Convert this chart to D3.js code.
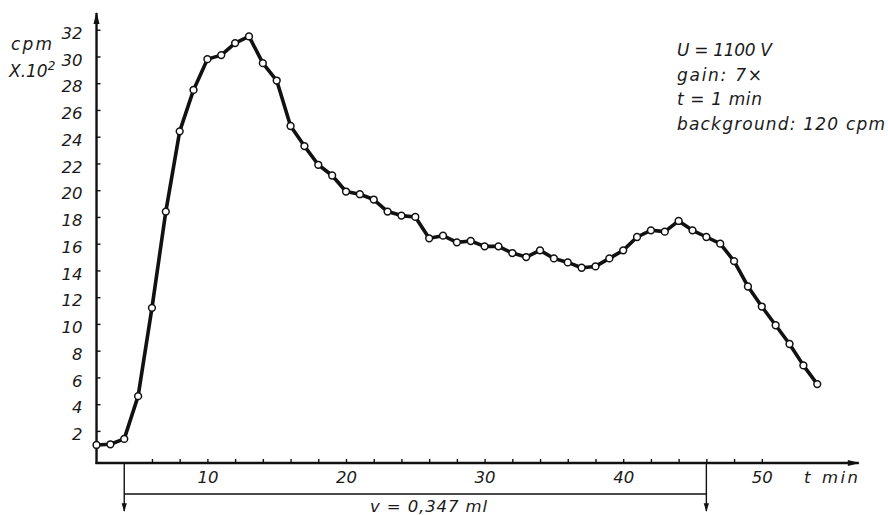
<!DOCTYPE html>
<html>
<head>
<meta charset="utf-8">
<script src="https://cdn.jsdelivr.net/npm/d3@7/dist/d3.min.js"></script>
<style>
  html, body { margin: 0; padding: 0; background: #fff; }
  svg { display: block; }
  text { font-family: "DejaVu Sans", sans-serif; font-style: italic; fill: #1a1a1a; }
</style>
</head>
<body>
<svg id="chart" width="888" height="515"></svg>
<script>
// Measured count rate (cpm x 10^2) for each minute of the run
const minutes = [2, 3, 4, 5, 6, 7, 8, 9, 10, 11, 12, 13, 14, 15, 16, 17, 18, 19, 20,
  21, 22, 23, 24, 25, 26, 27, 28, 29, 30, 31, 32, 33, 34, 35, 36, 37, 38, 39, 40,
  41, 42, 43, 44, 45, 46, 47, 48, 49, 50, 51, 52, 53, 54];
const counts = [0.95, 1.0, 1.4, 4.6, 11.2, 18.4, 24.4, 27.5, 29.8, 30.1, 31.0, 31.5,
  29.5, 28.2, 24.8, 23.3, 21.9, 21.1, 19.9, 19.7, 19.3, 18.4, 18.1, 18.0, 16.4, 16.6,
  16.1, 16.2, 15.8, 15.8, 15.3, 15.0, 15.5, 14.9, 14.6, 14.2, 14.3, 14.9, 15.5, 16.5,
  17.0, 16.9, 17.7, 17.0, 16.5, 16.0, 14.7, 12.8, 11.3, 9.9, 8.5, 6.9, 5.5];

// Axis ticks and labels
const yTicks = [2, 4, 6, 8, 10, 12, 14, 16, 18, 20, 22, 24, 26, 28, 30, 32];
const xTicks = [6, 8, 10, 12, 14, 16, 18, 20, 22, 24, 26, 28, 30, 32, 34, 36, 38, 40,
  42, 44, 46, 48, 50];
const xLabelled = [10, 20, 30, 40, 50];

// Collected volume interval (start and end minute) and its label
const volumeSpan = [4, 46];
const volumeLabel = "v = 0,347 ml";

// Run conditions
const notes = ["U = 1100 V", "gain: 7\u00d7", "t = 1 min", "background: 120 cpm"];

const svg = d3.select("#chart");

const x = d3.scaleLinear().domain([0, 57]).range([68.8, 68.8 + 57 * 13.86]);
const y = d3.scaleLinear().domain([-0.4, 33.25]).range([463, 13]);

const x0 = x(minutes[0]);
const xEnd = x(57);
const yBase = y(-0.4);
const yTop = y(33.25);

// arrowheads
const defs = svg.append("defs");
defs.append("marker")
  .attr("id", "axisHead").attr("viewBox", "0 0 12 8")
  .attr("refX", 11).attr("refY", 4)
  .attr("markerUnits", "userSpaceOnUse")
  .attr("markerWidth", 13).attr("markerHeight", 8)
  .attr("orient", "auto")
  .append("path").attr("d", "M0,1 L12,4 L0,7 Z").attr("fill", "#111");
defs.append("marker")
  .attr("id", "smallHead").attr("viewBox", "0 0 10 8")
  .attr("refX", 9).attr("refY", 4)
  .attr("markerUnits", "userSpaceOnUse")
  .attr("markerWidth", 10).attr("markerHeight", 7)
  .attr("orient", "auto")
  .append("path").attr("d", "M0,1 L10,4 L0,7 Z").attr("fill", "#111");

// y axis ticks and labels
const yAxis = d3.axisLeft(y).tickValues(yTicks)
  .tickSizeInner(-4).tickSizeOuter(0).tickPadding(14);
const gy = svg.append("g").attr("transform", `translate(${x0},0)`).call(yAxis);
gy.select(".domain").remove();
gy.selectAll(".tick line").attr("stroke", "#111").attr("stroke-width", 1.4);
gy.selectAll(".tick text")
  .attr("dy", "0.52em")
  .style("font-size", "16.5px")
  .style("font-family", "'DejaVu Sans', sans-serif")
  .style("font-style", "italic");

// x axis ticks and labels
const xAxis = d3.axisBottom(x).tickValues(xTicks)
  .tickSizeInner(-4).tickSizeOuter(0).tickPadding(8.4)
  .tickFormat(d => xLabelled.includes(d) ? d : "");
const gx = svg.append("g").attr("transform", `translate(0,${yBase})`).call(xAxis);
gx.select(".domain").remove();
gx.selectAll(".tick line").attr("stroke", "#111").attr("stroke-width", 1.4);
gx.selectAll(".tick text")
  .style("font-size", "16.5px")
  .style("font-family", "'DejaVu Sans', sans-serif")
  .style("font-style", "italic");

// axis lines with arrows
svg.append("line")
  .attr("x1", x0).attr("y1", yBase + 1).attr("x2", x0).attr("y2", yTop)
  .attr("stroke", "#111").attr("stroke-width", 2.4)
  .attr("marker-end", "url(#axisHead)");
svg.append("line")
  .attr("x1", x0 - 1).attr("y1", yBase).attr("x2", xEnd).attr("y2", yBase)
  .attr("stroke", "#111").attr("stroke-width", 2.4)
  .attr("marker-end", "url(#axisHead)");

// axis titles
svg.append("text").attr("x", 11).attr("y", 50).style("font-size", "17px")
  .attr("textLength", 41).attr("lengthAdjust", "spacing").text("cpm");
const yUnit = svg.append("text").attr("x", 9).attr("y", 77).style("font-size", "17px");
yUnit.append("tspan").text("X.10");
yUnit.append("tspan").attr("dy", -7).style("font-size", "12px").text("2");
svg.append("text").attr("x", 804).attr("y", 483).style("font-size", "16.5px").text("t");
svg.append("text").attr("x", 822).attr("y", 483).style("font-size", "16.5px")
  .attr("textLength", 36).attr("lengthAdjust", "spacing").text("min");

// collected volume bracket
const yBracket = 494;
volumeSpan.forEach(t => {
  svg.append("line")
    .attr("x1", x(t)).attr("y1", yBase).attr("x2", x(t)).attr("y2", yBase + 48)
    .attr("stroke", "#111").attr("stroke-width", 1.4)
    .attr("marker-end", "url(#smallHead)");
});
svg.append("line")
  .attr("x1", x(volumeSpan[0])).attr("y1", yBracket)
  .attr("x2", x(volumeSpan[1])).attr("y2", yBracket)
  .attr("stroke", "#111").attr("stroke-width", 1.4);
svg.append("text").attr("x", 370).attr("y", 512).style("font-size", "16.5px")
  .attr("textLength", 117).attr("lengthAdjust", "spacing").text(volumeLabel);

// run conditions
const noteWidths = [95, 85, 85, 208];
const noteBase = [56, 81, 105, 130];
notes.forEach((n, i) => {
  svg.append("text").attr("x", 677).attr("y", noteBase[i]).style("font-size", "17px")
    .attr("textLength", noteWidths[i]).attr("lengthAdjust", "spacing").text(n);
});

// measured curve
const pts = minutes.map((m, i) => [m, counts[i]]);
svg.append("path")
  .datum(pts)
  .attr("fill", "none").attr("stroke", "#111").attr("stroke-width", 3.6)
  .attr("stroke-linejoin", "round").attr("stroke-linecap", "round")
  .attr("d", d3.line().x(d => x(d[0])).y(d => y(d[1])));
svg.append("g").selectAll("circle")
  .data(pts).join("circle")
  .attr("cx", d => x(d[0])).attr("cy", d => y(d[1])).attr("r", 3.4)
  .attr("fill", "#fff").attr("stroke", "#111").attr("stroke-width", 1.5);
</script>
</body>
</html>
